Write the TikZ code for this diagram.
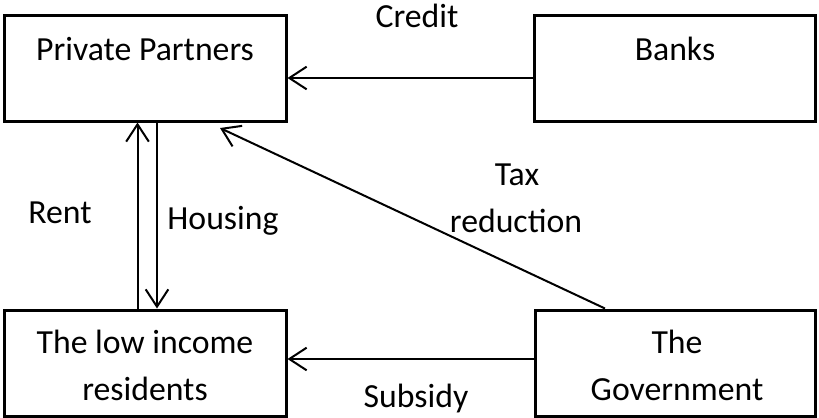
\documentclass[tikz,border=0pt]{standalone}
\usepackage{fontspec}
\setmainfont{Carlito}
\usetikzlibrary{arrows.meta}
\begin{document}
\begin{tikzpicture}[x=0.75pt,y=-0.75pt,
  box/.style={draw=black,line width=2.25pt,fill=white,inner sep=0pt},
  txt/.style={font=\fontsize{25.3}{35.25}\selectfont,anchor=base,inner sep=0pt,align=center},
  arr/.style={line width=1.5pt,-{Straight Barb[length=13pt,width=17pt,line width=1.5pt]}}]
\fill[white] (0,0) rectangle (819,418);
\useasboundingbox (0,0) rectangle (819,418);
\node[box,minimum width=211.5pt,minimum height=79.5pt] (pp) at (145,68) {};
\node[box,minimum width=210.75pt,minimum height=79.5pt] (banks) at (674.5,68) {};
\node[box,minimum width=211.5pt,minimum height=79.5pt] (low) at (145,363) {};
\node[box,minimum width=210pt,minimum height=79.5pt] (gov) at (675,363) {};
\node[txt] (ppt) at (145,60) {Private Partners};
\node[txt] (bkt) at (675,60) {Banks};
\node[txt] (lowt1) at (145,353) {The low income};
\node[txt] (lowt2) at (145,400) {residents};
\node[txt] (govt1) at (677,353) {The};
\node[txt] (govt2) at (677,400) {Government};
\node[txt] (credit) at (417,27) {Credit};
\node[txt] (rent) at (60,223) {Rent};
\node[txt] (housing) at (223,229) {Housing};
\node[txt] (tax1) at (517,185) {Tax};
\node[txt] (tax2) at (516,232) {reduction};
\node[txt] (subsidy) at (416,407) {Subsidy};
\coordinate (cr) at (0,78);
\coordinate (sb) at (0,359);
\coordinate (rx) at (137.5,0);
\coordinate (hx) at (157,0);
\coordinate (tx) at (605,0);
\coordinate (taxend) at (220,128);
\draw[arr] (banks.west |- cr) -- (pp.east |- cr);
\draw[arr] (gov.west |- sb) -- (low.east |- sb);
\draw[arr] (low.north -| rx) -- (pp.south -| rx);
\draw[arr] (pp.south -| hx) -- (low.north -| hx);
\draw[arr] (gov.north -| tx) -- (taxend);
\end{tikzpicture}
\end{document}
